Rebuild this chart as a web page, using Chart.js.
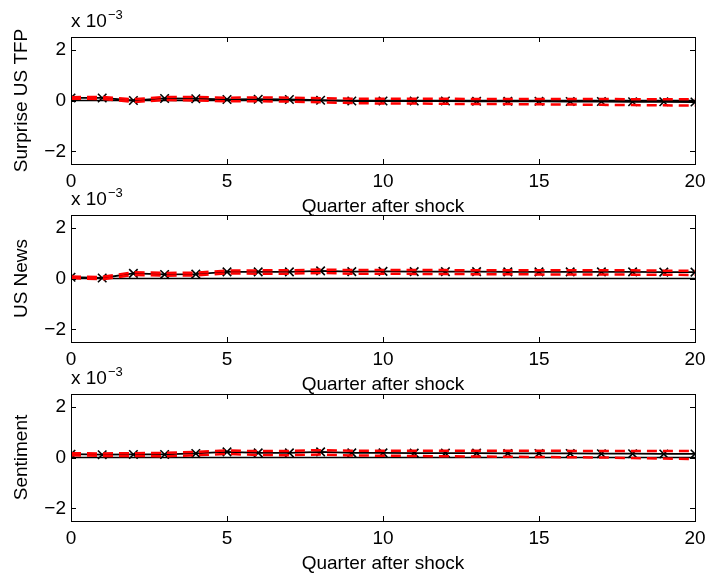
<!DOCTYPE html>
<html>
<head>
<meta charset="utf-8">
<script src="https://cdn.jsdelivr.net/npm/chart.js@4"></script>
<style>
  html, body { margin: 0; padding: 0; background: #fff; }
  #wrap { position: relative; width: 707px; height: 575px; overflow: hidden; }
  #wrap canvas { position: absolute; left: 0; }
</style>
</head>
<body>
<div id="wrap">
  <canvas id="p1" width="707" height="222" style="top:0px"></canvas>
  <canvas id="p2" width="707" height="222" style="top:178px"></canvas>
  <canvas id="p3" width="707" height="222" style="top:357px"></canvas>
</div>
<script>
// 資料（單位 x 10^-3）
const quarters = [0,1,2,3,4,5,6,7,8,9,10,11,12,13,14,15,16,17,18,19,20];
const xTicks = [0, 5, 10, 15, 20];
const yTicks = [-2, 0, 2];

const tfpIrf   = [0.10,0.10,0.00,0.08,0.07,0.04,0.05,0.04,0.01,-0.02,-0.02,-0.02,-0.02,-0.03,-0.03,-0.03,-0.04,-0.04,-0.05,-0.05,-0.06];
const tfpUpper = [0.13,0.14,0.05,0.14,0.14,0.11,0.12,0.11,0.09,0.07,0.07,0.07,0.07,0.06,0.06,0.06,0.06,0.06,0.05,0.05,0.05];
const tfpLower = [0.07,0.06,-0.06,0.02,0.00,-0.03,-0.03,-0.04,-0.07,-0.10,-0.12,-0.12,-0.13,-0.14,-0.14,-0.15,-0.16,-0.17,-0.18,-0.19,-0.20];

const newsIrf   = [0.05,0.02,0.20,0.16,0.17,0.26,0.26,0.26,0.30,0.27,0.28,0.27,0.27,0.27,0.26,0.26,0.26,0.26,0.26,0.25,0.25];
const newsUpper = [0.08,0.06,0.25,0.22,0.23,0.31,0.32,0.32,0.35,0.33,0.33,0.33,0.33,0.32,0.32,0.32,0.32,0.32,0.32,0.31,0.31];
const newsLower = [0.02,-0.03,0.14,0.11,0.12,0.20,0.19,0.19,0.22,0.19,0.19,0.18,0.18,0.17,0.17,0.16,0.16,0.16,0.15,0.15,0.14];

const sentIrf   = [0.13,0.11,0.12,0.12,0.16,0.22,0.18,0.18,0.22,0.18,0.18,0.17,0.17,0.17,0.16,0.16,0.16,0.15,0.15,0.14,0.14];
const sentUpper = [0.17,0.16,0.17,0.18,0.22,0.28,0.25,0.26,0.29,0.27,0.27,0.27,0.27,0.27,0.27,0.27,0.26,0.26,0.26,0.26,0.26];
const sentLower = [0.09,0.06,0.06,0.05,0.09,0.14,0.10,0.09,0.12,0.08,0.07,0.06,0.05,0.04,0.03,0.02,0.01,0.00,-0.02,-0.04,-0.06];

const FONT = '"Liberation Sans", Arial, Helvetica, sans-serif';
const FS = 19;

// MATLAB 風格：外框 + 向內刻度 + 左上 "x 10^-3"
const matlabBox = {
  id: 'matlabBox',
  afterDraw(chart) {
    const { ctx, chartArea: a, scales } = chart;
    const tl = 5;
    ctx.save();
    ctx.strokeStyle = '#000';
    ctx.lineWidth = 1;
    xTicks.forEach(v => {
      const px = Math.round(scales.x.getPixelForValue(v)) + 0.5;
      ctx.beginPath();
      ctx.moveTo(px, a.bottom); ctx.lineTo(px, a.bottom - tl);
      ctx.moveTo(px, a.top); ctx.lineTo(px, a.top + tl);
      ctx.stroke();
    });
    yTicks.forEach(v => {
      const py = Math.round(scales.y.getPixelForValue(v)) + 0.5;
      ctx.beginPath();
      ctx.moveTo(a.left, py); ctx.lineTo(a.left + tl, py);
      ctx.moveTo(a.right, py); ctx.lineTo(a.right - tl, py);
      ctx.stroke();
    });
    ctx.strokeRect(Math.round(a.left) + 0.5, Math.round(a.top) + 0.5,
                   Math.round(a.right - a.left), Math.round(a.bottom - a.top));
    // 指數標示
    ctx.fillStyle = '#000';
    ctx.textBaseline = 'alphabetic';
    ctx.textAlign = 'left';
    ctx.font = FS + 'px ' + FONT;
    const base = 'x 10';
    ctx.fillText(base, a.left, a.top - 10);
    const w = ctx.measureText(base).width;
    ctx.font = '13px ' + FONT;
    ctx.fillText('\u22123', a.left + w + 1, a.top - 18);
    ctx.restore();
  }
};

function pts(arr) {
  return quarters.map((q, i) => ({ x: q, y: arr[i] }));
}

function makePanel(id, label, irf, upper, lower) {
  const band = (arr) => ({
    data: pts(arr),
    borderColor: '#ff0000',
    borderWidth: 2.5,
    borderDash: [10, 6],
    pointRadius: 0,
    fill: false,
    tension: 0
  });
  new Chart(document.getElementById(id).getContext('2d'), {
    type: 'line',
    data: {
      datasets: [
        band(upper),
        band(lower),
        {
          data: quarters.map(q => ({ x: q, y: 0 })),
          borderColor: '#000',
          borderWidth: 1.5,
          pointRadius: 0,
          fill: false
        },
        {
          data: pts(irf),
          borderColor: '#000',
          borderWidth: 1.8,
          pointStyle: 'crossRot',
          pointRadius: 6,
          pointBorderWidth: 1.6,
          pointBorderColor: '#000',
          fill: false,
          tension: 0
        }
      ]
    },
    options: {
      responsive: false,
      animation: false,
      layout: { padding: { left: 0, right: 12, top: 37, bottom: 0 } },
      plugins: { legend: { display: false }, tooltip: { enabled: false } },
      scales: {
        x: {
          type: 'linear',
          min: 0, max: 20,
          grid: { display: false, drawTicks: false },
          border: { display: false },
          afterBuildTicks: s => { s.ticks = xTicks.map(v => ({ value: v })); },
          afterFit: s => { s.height = 58; s.paddingLeft = 0; s.paddingRight = 0; },
          ticks: { color: '#000', font: { family: FONT, size: FS }, padding: 6, maxRotation: 0 },
          title: { display: true, text: 'Quarter after shock', color: '#000',
                   font: { family: FONT, size: FS }, padding: { top: 0, bottom: 4 } }
        },
        y: {
          min: -2.5, max: 2.5,
          grid: { display: false, drawTicks: false },
          border: { display: false },
          afterBuildTicks: s => { s.ticks = yTicks.map(v => ({ value: v })); },
          afterFit: s => { s.width = 71; s.paddingTop = 0; s.paddingBottom = 0; },
          ticks: { color: '#000', font: { family: FONT, size: FS }, padding: 5,
                   callback: v => (v < 0 ? '\u2212' + Math.abs(v) : String(v)) },
          title: { display: true, text: label, color: '#000',
                   font: { family: FONT, size: FS }, padding: { top: 10, bottom: 0 } }
        }
      }
    },
    plugins: [matlabBox]
  });
}

makePanel('p1', 'Surprise US TFP', tfpIrf, tfpUpper, tfpLower);
makePanel('p2', 'US News', newsIrf, newsUpper, newsLower);
makePanel('p3', 'Sentiment', sentIrf, sentUpper, sentLower);
</script>
</body>
</html>
